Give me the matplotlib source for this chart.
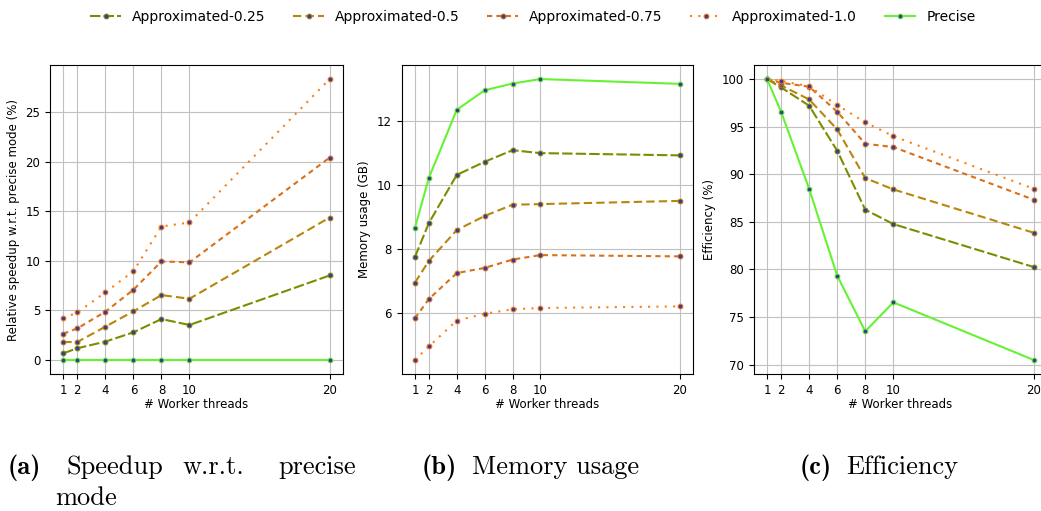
import matplotlib
matplotlib.use("Agg")
import matplotlib.pyplot as plt

threads = [1, 2, 4, 6, 8, 10, 20]
series_names = ["Approximated-0.25", "Approximated-0.5", "Approximated-0.75", "Approximated-1.0", "Precise"]

speedup_025 = [0.67, 1.18, 1.85, 2.79, 4.13, 3.53, 8.53]
speedup_05 = [1.81, 1.81, 3.36, 4.91, 6.55, 6.18, 14.38]
speedup_075 = [2.65, 3.19, 4.87, 7.09, 9.95, 9.85, 20.43]
speedup_10 = [4.2, 4.8, 6.82, 8.97, 13.47, 13.88, 28.36]
speedup_precise = [0, 0, 0, 0, 0, 0, 0]

memory_025 = [7.75, 8.81, 10.31, 10.72, 11.08, 10.99, 10.92]
memory_05 = [6.95, 7.63, 8.59, 9.03, 9.38, 9.40, 9.50]
memory_075 = [5.84, 6.44, 7.25, 7.41, 7.67, 7.81, 7.77]
memory_10 = [4.54, 4.96, 5.77, 5.98, 6.12, 6.16, 6.21]
memory_precise = [8.66, 10.22, 12.34, 12.95, 13.16, 13.30, 13.15]

eff_025 = [100, 99.12, 97.2, 92.47, 86.28, 84.77, 80.26]
eff_05 = [100, 99.33, 97.86, 94.71, 89.6, 88.41, 83.86]
eff_075 = [100, 99.6, 99.2, 96.57, 93.2, 92.86, 87.33]
eff_10 = [100, 99.8, 99.23, 97.27, 95.45, 94.0, 88.48]
eff_precise = [100, 96.57, 88.48, 79.35, 73.5, 76.55, 70.5]

colors = ["#7f8c00", "#b8860b", "#d9701a", "#ff7f0e", "#66f233"]
styles = [(0, (5, 1.5)), (0, (4, 2)), (0, (2.5, 2)), (0, (1, 3)), "-"]
marker_face = "#3b3b99"

fig = plt.figure(figsize=(10.41, 5.11), dpi=100)
W, H = 1041, 511
bottom = 1 - 374 / H
height = (374 - 65) / H
ax_a = fig.add_axes([50 / W, bottom, 293 / W, height])
ax_b = fig.add_axes([401.7 / W, bottom, 291.3 / W, height])
ax_c = fig.add_axes([753.7 / W, bottom, 293.3 / W, height])

data = [
    (ax_a, [speedup_025, speedup_05, speedup_075, speedup_10, speedup_precise],
     "Relative speedup w.r.t. precise mode (%)"),
    (ax_b, [memory_025, memory_05, memory_075, memory_10, memory_precise],
     "Memory usage (GB)"),
    (ax_c, [eff_025, eff_05, eff_075, eff_10, eff_precise],
     "Efficiency (%)"),
]

for ax, ys, ylabel in data:
    for name, y, c, ls in zip(series_names, ys, colors, styles):
        ax.plot(threads, y, linestyle=ls, color=c, lw=1.5, marker="o", markersize=3.5,
                markerfacecolor=marker_face, markeredgecolor=c, markeredgewidth=0.7,
                label=name)
    ax.set_xticks(threads)
    ax.grid(True, color="#c0c0c0", lw=0.8)
    ax.set_axisbelow(True)
    ax.tick_params(labelsize=8.5)
    ax.set_xlabel("# Worker threads", fontsize=8.5, labelpad=1)
    ax.set_ylabel(ylabel, fontsize=8.5)

ax_a.set_yticks([0, 5, 10, 15, 20, 25])
ax_b.set_yticks([6, 8, 10, 12])
ax_c.set_yticks([70, 75, 80, 85, 90, 95, 100])

handles, labels = ax_a.get_legend_handles_labels()
fig.legend(handles, labels, loc="upper center", bbox_to_anchor=(0.512, 1.005), ncol=5,
           frameon=False, fontsize=10, handlelength=2.2, columnspacing=2.0)

cap_fs = 19
def cap(x, y, s, bold=False):
    fig.text(x / W, 1 - y / H, s, fontsize=cap_fs, family="cmb10" if bold else "cmr10",
             va="baseline", ha="left")

cap(8, 474, "(a)", bold=True)
cap(66, 474, "Speedup")
cap(182, 474, "w.r.t.")
cap(278, 474, "precise")
cap(55, 505, "mode")
cap(422, 474, "(b)", bold=True)
cap(472, 474, "Memory usage")
cap(800, 474, "(c)", bold=True)
cap(846, 474, "Efficiency")

fig.savefig("out.png", dpi=100)
